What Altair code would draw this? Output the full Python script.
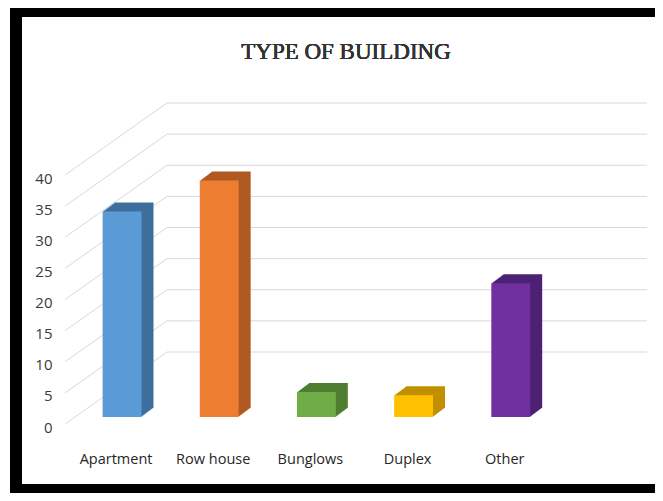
import altair as alt
import pandas as pd

# ---- data ----
categories = ["Apartment", "Row house", "Bunglows", "Duplex", "Other"]
values = [33, 38, 4, 3.5, 21.5]
front_colors = ["#5b9bd5", "#ed7d31", "#70ad47", "#ffc000", "#7030a0"]
side_colors = ["#3f6f9d", "#b05a20", "#4f7e31", "#c09000", "#4d2173"]
y_ticks = [0, 5, 10, 15, 20, 25, 30, 35, 40]
title_text = "TYPE OF BUILDING"

bars = pd.DataFrame({"type": categories, "value": values})
grid = pd.DataFrame({"v": y_ticks})

W, H = 585, 249
DEPTH_X, DEPTH_Y = 12, 9
STEPS = 12

x_scale = alt.Scale(domain=categories, paddingInner=0.6, paddingOuter=0.81, align=0.258)
y_scale = alt.Scale(domain=[0, 40], nice=False)

x_enc = alt.X("type:N", sort=categories, scale=x_scale,
              axis=alt.Axis(title=None, domain=False, ticks=False, grid=False,
                            labelAngle=0, labelPadding=35, labelOffset=-6,
                            labelFont="Open Sans", labelFontSize=14.5, labelColor="#262626"))

y_axis = alt.Axis(title=None, domain=False, ticks=False, tickSize=0, grid=False,
                  values=y_ticks, labelPadding=10, labelOffset=10,
                  labelFont="Open Sans", labelFontSize=15, labelColor="#3a3a3a")


def y_enc(field):
    return alt.Y(field, type="quantitative", scale=y_scale, axis=y_axis)


# 3D wall grid: diagonal side-wall lines and back-wall lines
diag = alt.Chart(grid).mark_rule(color="#d9d9d9", strokeWidth=1, yOffset=7, y2Offset=-65).encode(
    y=y_enc("v"),
    y2="v:Q",
    x=alt.value(3), x2=alt.value(105),
)
back = alt.Chart(grid).mark_rule(color="#d9d9d9", strokeWidth=1, yOffset=-65).encode(
    y=y_enc("v"),
    x=alt.value(105), x2=alt.value(W),
)

color_side = alt.Color("type:N", scale=alt.Scale(domain=categories, range=side_colors), legend=None)
color_front = alt.Color("type:N", scale=alt.Scale(domain=categories, range=front_colors), legend=None)

side_layers = []
for k in range(STEPS, 0, -1):
    dx = DEPTH_X * k / STEPS
    dy = -DEPTH_Y * k / STEPS
    side_layers.append(
        alt.Chart(bars).mark_bar(xOffset=dx, x2Offset=dx, yOffset=dy, y2Offset=dy).encode(
            x=x_enc,
            y=y_enc("value"),
            y2=alt.datum(0),
            color=color_side,
        )
    )

front = alt.Chart(bars).mark_bar().encode(
    x=x_enc,
    y=y_enc("value"),
    y2=alt.datum(0),
    color=color_front,
)

title = alt.Chart(bars).mark_text(font="Liberation Serif", fontSize=23, color="#333333",
                                  fontWeight="normal", align="center", baseline="alphabetic").encode(
    x=alt.value(284), y=alt.value(-109), text=alt.value(title_text)
)

# frame
frame_left = alt.Chart(bars).mark_rule(color="black", strokeWidth=11.5).encode(
    x=alt.value(-46), y=alt.value(-170), y2=alt.value(340))
frame_top = alt.Chart(bars).mark_rule(color="black", strokeWidth=11).encode(
    y=alt.value(-156.5), x=alt.value(-52), x2=alt.value(620))
frame_bottom = alt.Chart(bars).mark_rule(color="black", strokeWidth=10).encode(
    y=alt.value(321), x=alt.value(-52), x2=alt.value(620))

chart = alt.layer(diag, back, *side_layers, front, title, frame_left, frame_top, frame_bottom).resolve_scale(
    color="independent"
).properties(
    width=W, height=H,
    autosize=alt.AutoSizeParams(type="none"),
    padding={"left": 54, "top": 160, "right": 8, "bottom": 76},
    background="white",
).configure_view(stroke=None)

chart.save("out.html", embed_options={"renderer": "svg", "actions": False})
